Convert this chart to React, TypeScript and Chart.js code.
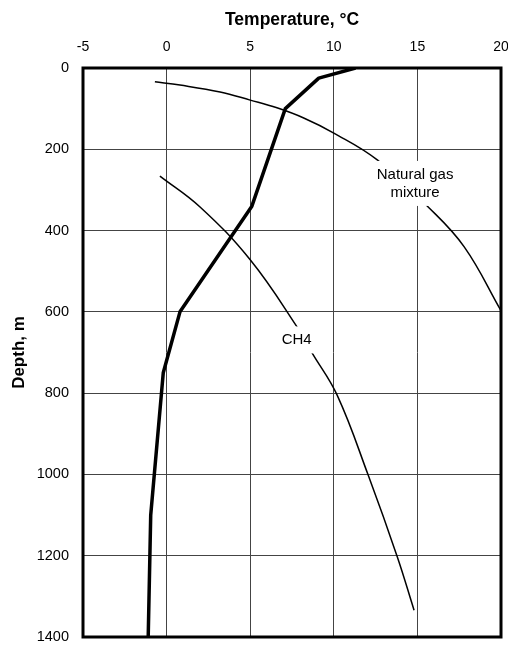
import React, { useEffect, useRef } from "react";
import { Chart, registerables } from "chart.js";

Chart.register(...registerables);

// Measured temperature profile (thick line)
const profileDepth = [0, 25, 100, 340, 600, 750, 1100, 1400];
const profileTemp = [11.3, 9.1, 7.1, 5.1, 0.8, -0.2, -0.95, -1.1];

// Hydrate curve: natural gas mixture
const gasMixTemp = [-0.7, 0.8, 3.2, 5.0, 6.6, 8.2, 10.0, 12.6, 15.6, 17.8, 20];
const gasMixDepth = [34, 42, 59, 79, 98, 123, 160, 226, 340, 440, 597];

// Hydrate curve: CH4
const ch4Temp = [-0.4, 2.0, 5.0, 7.8, 8.7, 10.2, 12.05, 13.8, 14.8];
const ch4Depth = [266, 342, 472, 637, 701, 805, 1001, 1203, 1334];

// Axis ticks
const tempTicks = [-5, 0, 5, 10, 15, 20];
const depthTicks = [0, 200, 400, 600, 800, 1000, 1200, 1400];

// Curve labels (anchored in data units)
const labelTexts = [["Natural gas", "mixture"], ["CH4"]];
const labelTemp = [14.86, 7.78];
const labelDepth = [284, 669];

const toPoints = (xs: number[], ys: number[]) => xs.map((x, i) => ({ x, y: ys[i] }));

const FONT = "'Liberation Sans', Arial, sans-serif";

const frameAndLabels = {
  id: "frameAndLabels",
  afterDatasetsDraw(chart: any) {
    const ctx = chart.ctx;
    const xs = chart.scales.x;
    const ys = chart.scales.y;
    ctx.save();
    ctx.font = `15px ${FONT}`;
    ctx.textAlign = "center";
    ctx.textBaseline = "middle";
    const lh = 18;
    labelTexts.forEach((lines, i) => {
      const cx = xs.getPixelForValue(labelTemp[i]);
      const cy = ys.getPixelForValue(labelDepth[i]);
      const w = Math.max(...lines.map((l) => ctx.measureText(l).width));
      const h = lines.length * lh;
      ctx.fillStyle = "#ffffff";
      ctx.fillRect(cx - w / 2 - 3, cy - h / 2 - 4.5, w + 6, h + 9);
      ctx.fillStyle = "#000000";
      lines.forEach((l, j) => {
        ctx.fillText(l, cx, cy - h / 2 + lh / 2 + j * lh);
      });
    });
    ctx.restore();
  },
  afterDraw(chart: any) {
    const { left, top, right, bottom } = chart.chartArea;
    const ctx = chart.ctx;
    ctx.save();
    ctx.strokeStyle = "#000000";
    ctx.lineWidth = 3;
    ctx.strokeRect(left, top, right - left, bottom - top);
    ctx.restore();
  },
};

export default function App() {
  const ref = useRef<HTMLCanvasElement | null>(null);

  useEffect(() => {
    if (!ref.current) return;
    const chart = new Chart(ref.current, {
      type: "scatter",
      data: {
        datasets: [
          {
            label: "Natural gas mixture",
            data: toPoints(gasMixTemp, gasMixDepth),
            showLine: true,
            borderColor: "#000000",
            borderWidth: 1.5,
            pointRadius: 0,
            tension: 0.4,
          },
          {
            label: "CH4",
            data: toPoints(ch4Temp, ch4Depth),
            showLine: true,
            borderColor: "#000000",
            borderWidth: 1.5,
            pointRadius: 0,
            tension: 0.4,
          },
          {
            label: "Temperature",
            data: toPoints(profileTemp, profileDepth),
            showLine: true,
            borderColor: "#000000",
            borderWidth: 3.5,
            pointRadius: 0,
            tension: 0,
            borderJoinStyle: "round",
          },
        ],
      },
      options: {
        animation: false,
        responsive: false,
        maintainAspectRatio: false,
        layout: { padding: { left: 0, top: 0, right: 7, bottom: 8 } },
        plugins: { legend: { display: false }, tooltip: { enabled: false } },
        scales: {
          x: {
            type: "linear",
            position: "top",
            min: tempTicks[0],
            max: tempTicks[tempTicks.length - 1],
            afterBuildTicks: (axis: any) => {
              axis.ticks = tempTicks.map((v) => ({ value: v }));
            },
            afterFit: (axis: any) => {
              axis.height = 68;
              axis.paddingLeft = 0;
              axis.paddingRight = 0;
            },
            grid: { color: "#444444", lineWidth: 1, drawTicks: false },
            border: { display: false },
            ticks: {
              color: "#000000",
              padding: 12,
              maxRotation: 0,
              font: { family: FONT, size: 14 },
              callback: (v: any) => String(v),
            },
            title: {
              display: true,
              text: "Temperature, °C",
              color: "#000000",
              font: { family: FONT, size: 17.5, weight: "bold" },
              padding: { top: 10, bottom: 0 },
            },
          },
          y: {
            type: "linear",
            reverse: true,
            min: depthTicks[0],
            max: depthTicks[depthTicks.length - 1],
            afterBuildTicks: (axis: any) => {
              axis.ticks = depthTicks.map((v) => ({ value: v }));
            },
            afterFit: (axis: any) => {
              axis.width = 83;
              axis.paddingTop = 0;
              axis.paddingBottom = 0;
            },
            grid: { color: "#444444", lineWidth: 1, drawTicks: false },
            border: { display: false },
            ticks: {
              color: "#000000",
              padding: 14,
              font: { family: FONT, size: 14.5 },
              callback: (v: any) => String(v),
            },
            title: {
              display: true,
              text: "Depth, m",
              color: "#000000",
              font: { family: FONT, size: 17, weight: "bold" },
              padding: { top: 9, bottom: 0 },
            },
          },
        },
      },
      plugins: [frameAndLabels],
    } as any);
    return () => chart.destroy();
  }, []);

  return (
    <div style={{ position: "absolute", left: 0, top: 0, width: 508, height: 645, background: "#ffffff" }}>
      <canvas ref={ref} width={508} height={645} style={{ display: "block", width: 508, height: 645 }} />
    </div>
  );
}
